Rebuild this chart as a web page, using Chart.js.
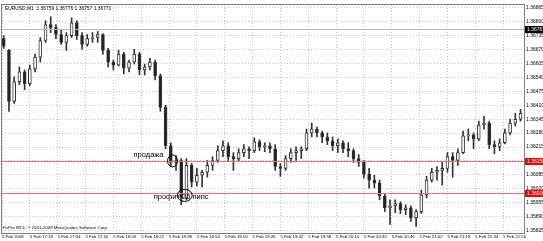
<!DOCTYPE html>
<html>
<head>
<meta charset="utf-8">
<script src="https://cdn.jsdelivr.net/npm/chart.js@4.4.1/dist/chart.umd.min.js"></script>
<style>
    html, body { margin: 0; padding: 0; background: #fff; overflow: hidden; }
    #wrap { position: relative; width: 543px; height: 241px; }
</style>
</head>
<body>
<div id="wrap"><canvas id="grafico"></canvas></div>
<script>
// EURUSD M1, 5 Feb 2008 - candles grouped by 3 minutes
const tituloSimbolo = 'EURUSD,M1  1.36759 1.36776 1.36757 1.36771';
const copyright = 'FxPro MT4, © 2001-2009 MetaQuotes Software Corp.';

const inicioMin = 3;   // first bar: 17:03 (minutes after 17:00)
const passoMin = 3;

const abertura = [1.36722,1.36667,1.36428,1.36520,1.36566,1.36511,1.36580,1.36635,1.36713,1.36787,
    1.36773,1.36741,1.36704,1.36736,1.36796,1.36736,1.36695,1.36722,1.36727,1.36741,
    1.36667,1.36612,1.36598,1.36649,1.36584,1.36612,1.36649,1.36575,1.36589,1.36612,
    1.36548,1.36400,1.36221,1.36143,1.36152,1.35977,1.36129,1.36051,1.36083,1.36097,
    1.36129,1.36152,1.36198,1.36221,1.36170,1.36161,1.36189,1.36207,1.36198,1.36239,
    1.36216,1.36221,1.36207,1.36124,1.36115,1.36161,1.36189,1.36198,1.36207,1.36281,
    1.36299,1.36281,1.36262,1.36244,1.36221,1.36235,1.36207,1.36198,1.36161,1.36143,
    1.36088,1.36060,1.36046,1.35986,1.35931,1.35940,1.35950,1.35922,1.35931,1.35885,
    1.35913,1.35991,1.36060,1.36097,1.36106,1.36115,1.36170,1.36152,1.36189,1.36267,
    1.36272,1.36253,1.36318,1.36327,1.36226,1.36216,1.36235,1.36281,1.36327,1.36345];
const maxima = [1.36736,1.36672,1.36543,1.36589,1.36575,1.36598,1.36649,1.36727,1.36805,1.36824,
    1.36787,1.36764,1.36750,1.36819,1.36805,1.36750,1.36741,1.36750,1.36755,1.36745,
    1.36676,1.36621,1.36667,1.36658,1.36621,1.36672,1.36658,1.36603,1.36630,1.36621,
    1.36557,1.36410,1.36235,1.36175,1.36161,1.36161,1.36138,1.36115,1.36106,1.36152,
    1.36170,1.36221,1.36244,1.36235,1.36189,1.36207,1.36226,1.36216,1.36258,1.36249,
    1.36235,1.36235,1.36226,1.36138,1.36175,1.36207,1.36216,1.36216,1.36299,1.36327,
    1.36308,1.36290,1.36281,1.36262,1.36253,1.36244,1.36235,1.36207,1.36180,1.36152,
    1.36115,1.36083,1.36060,1.35996,1.35968,1.35968,1.35959,1.35945,1.35940,1.35922,
    1.36014,1.36078,1.36115,1.36124,1.36143,1.36189,1.36189,1.36207,1.36290,1.36299,
    1.36281,1.36336,1.36359,1.36336,1.36244,1.36253,1.36299,1.36345,1.36373,1.36391];
const minimas = [1.36676,1.36382,1.36419,1.36506,1.36483,1.36502,1.36566,1.36612,1.36704,1.36750,
    1.36722,1.36695,1.36667,1.36727,1.36718,1.36672,1.36686,1.36704,1.36704,1.36649,
    1.36589,1.36575,1.36594,1.36557,1.36566,1.36603,1.36552,1.36552,1.36575,1.36529,
    1.36382,1.36207,1.36124,1.36106,1.35945,1.35968,1.36028,1.36032,1.36028,1.36074,
    1.36106,1.36143,1.36170,1.36152,1.36106,1.36152,1.36170,1.36161,1.36189,1.36198,
    1.36193,1.36189,1.36106,1.36078,1.36106,1.36143,1.36152,1.36161,1.36198,1.36262,
    1.36262,1.36235,1.36226,1.36198,1.36189,1.36189,1.36170,1.36143,1.36124,1.36069,
    1.36023,1.36023,1.35968,1.35913,1.35853,1.35908,1.35904,1.35899,1.35867,1.35844,
    1.35904,1.35977,1.36051,1.36060,1.36037,1.36097,1.36074,1.36129,1.36184,1.36244,
    1.36207,1.36244,1.36299,1.36207,1.36184,1.36198,1.36230,1.36272,1.36313,1.36336];
const fechamento = [1.36686,1.36428,1.36520,1.36566,1.36511,1.36580,1.36635,1.36713,1.36787,1.36773,
    1.36741,1.36704,1.36736,1.36796,1.36736,1.36695,1.36722,1.36727,1.36741,1.36667,
    1.36612,1.36598,1.36649,1.36584,1.36612,1.36649,1.36575,1.36589,1.36612,1.36548,
    1.36400,1.36221,1.36143,1.36152,1.35977,1.36129,1.36051,1.36083,1.36097,1.36129,
    1.36152,1.36198,1.36221,1.36170,1.36161,1.36189,1.36207,1.36198,1.36239,1.36216,
    1.36221,1.36207,1.36124,1.36115,1.36161,1.36189,1.36198,1.36207,1.36281,1.36299,
    1.36281,1.36262,1.36244,1.36221,1.36235,1.36207,1.36198,1.36161,1.36143,1.36088,
    1.36060,1.36046,1.35986,1.35931,1.35940,1.35950,1.35922,1.35931,1.35885,1.35913,
    1.35991,1.36060,1.36097,1.36106,1.36115,1.36170,1.36152,1.36189,1.36267,1.36272,
    1.36253,1.36318,1.36327,1.36226,1.36216,1.36235,1.36281,1.36327,1.36345,1.36373];

const precosEixo = [1.36865,1.36800,1.36735,1.36670,1.36605,1.36540,1.36475,1.36410,1.36345,
    1.36280,1.36215,1.36150,1.36085,1.36020,1.35955,1.35890,1.35825];
const minutosEixoX = [2,18,34,50,66,82,98,114,130,146,162,178,194,210,226,242,258,274,290];
const rotulosEixoX = ['5 Feb 2008','5 Feb 17:18','5 Feb 17:34','5 Feb 17:50','5 Feb 18:06','5 Feb 18:22',
    '5 Feb 18:38','5 Feb 18:54','5 Feb 19:10','5 Feb 19:26','5 Feb 19:42','5 Feb 19:58','5 Feb 20:14',
    '5 Feb 20:30','5 Feb 20:46','5 Feb 21:02','5 Feb 21:18','5 Feb 21:34','5 Feb 21:50'];

const precoBid = 1.36767;
const linhaVenda = 1.36150;
const linhaProfit = 1.36000;
const marcaVenda = { minuto: 100, preco: 1.36150, texto: 'продажа' };
const marcaProfit = { minuto: 107, preco: 1.35989, texto: 'профит 25 пипс' };

const fonte = '"Liberation Sans", Arial, sans-serif';

const minutos = abertura.map((_, i) => inicioMin + i * passoMin);
const corpos = abertura.map((o, i) => ({ x: minutos[i], y: [o, fechamento[i]] }));
const pavios = maxima.map((h, i) => ({ x: minutos[i], y: [minimas[i], h] }));
const altas = abertura.map((o, i) => fechamento[i] >= o);

function rotuloPreco(ctx, chart, preco, fundo, texto) {
    const y = chart.scales.y.getPixelForValue(preco);
    const x0 = chart.chartArea.right + 1;
    ctx.fillStyle = fundo;
    ctx.fillRect(x0, Math.round(y) - 3, 543 - x0, 7);
    ctx.fillStyle = texto;
    ctx.font = '5px ' + fonte;
    ctx.textBaseline = 'middle';
    ctx.textAlign = 'left';
    ctx.fillText(preco.toFixed(5), x0 + 2, y + 0.5);
}

function linhaH(ctx, a, yy, cor) {
    ctx.fillStyle = cor;
    ctx.fillRect(a.left, Math.round(yy), a.right - a.left, 1);
}

const extras = {
    id: 'extras',
    afterDatasetsDraw(chart) {
        const { ctx, chartArea: a, scales: { y } } = chart;
        ctx.save();
        linhaH(ctx, a, y.getPixelForValue(precoBid), '#b8b8b8');
        linhaH(ctx, a, y.getPixelForValue(linhaVenda), '#f07070');
        linhaH(ctx, a, y.getPixelForValue(linhaProfit), '#f07070');
        ctx.restore();
    },
    afterDraw(chart) {
        const { ctx, chartArea: a, scales: { x, y } } = chart;
        ctx.save();
        ctx.setLineDash([]);
        ctx.strokeStyle = '#808080';
        ctx.lineWidth = 1;
        ctx.strokeRect(a.left - 0.5, a.top - 0.5, a.right - a.left + 1, a.bottom - a.top + 1);

        ctx.fillStyle = '#000';
        ctx.textBaseline = 'middle';
        ctx.textAlign = 'left';
        ctx.font = '4.9px ' + fonte;
        ctx.fillText(tituloSimbolo, a.left + 3, a.top + 4);
        ctx.font = '4.4px ' + fonte;
        ctx.fillText(copyright, a.left + 1, a.bottom - 5);

        rotuloPreco(ctx, chart, precoBid, '#000', '#fff');
        rotuloPreco(ctx, chart, linhaVenda, '#f00000', '#fff');
        rotuloPreco(ctx, chart, linhaProfit, '#f00000', '#fff');

        // anotacoes
        ctx.font = '7.5px ' + fonte;
        ctx.fillStyle = '#000';
        ctx.strokeStyle = '#000';
        let cx = x.getPixelForValue(marcaVenda.minuto), cy = y.getPixelForValue(marcaVenda.preco);
        ctx.beginPath(); ctx.ellipse(cx, cy, 5, 6, 0, 0, Math.PI * 2); ctx.stroke();
        ctx.textAlign = 'right';
        ctx.fillText(marcaVenda.texto, cx - 9, cy - 6);

        cx = x.getPixelForValue(marcaProfit.minuto); cy = y.getPixelForValue(marcaProfit.preco);
        ctx.textAlign = 'left';
        ctx.fillText(marcaProfit.texto, cx - 31, cy + 2);
        ctx.beginPath(); ctx.ellipse(cx, cy, 7.5, 6, 0, 0, Math.PI * 2); ctx.stroke();
        ctx.restore();
    }
};

new Chart(document.getElementById('grafico'), {
    type: 'bar',
    data: {
        datasets: [{
            label: 'corpo',
            data: corpos,
            backgroundColor: altas.map(u => u ? '#ffffff' : '#222222'),
            borderColor: '#333333',
            borderWidth: 1,
            borderSkipped: false,
            barThickness: 3,
            grouped: false,
        }, {
            label: 'pavio',
            data: pavios,
            backgroundColor: '#333333',
            borderWidth: 0,
            barThickness: 1,
            grouped: false,
        }]
    },
    options: {
        responsive: true,
        maintainAspectRatio: false,
        animation: false,
        layout: { padding: { left: 2, top: 2, right: 0, bottom: 0 } },
        plugins: { legend: { display: false }, tooltip: { enabled: false } },
        scales: {
            x: {
                type: 'linear',
                offset: false,
                min: 2,
                max: 302,
                afterBuildTicks: ax => { ax.ticks = minutosEixoX.map(v => ({ value: v })); },
                afterFit: ax => { ax.height = 8; },
                ticks: {
                    autoSkip: false,
                    maxRotation: 0,
                    align: 'start',
                    padding: 1,
                    color: '#000',
                    font: { family: fonte, size: 4.3 },
                    callback: (v, i) => rotulosEixoX[i],
                },
                grid: { color: '#c4c4c4', drawTicks: false, offset: false },
                border: { display: false, dash: [1, 2] },
            },
            y: {
                position: 'right',
                min: 1.35813,
                max: 1.36879,
                afterBuildTicks: ax => { ax.ticks = precosEixo.map(v => ({ value: v })); },
                afterFit: ax => { ax.width = 19; },
                ticks: {
                    padding: 2,
                    color: '#000',
                    font: { family: fonte, size: 5 },
                    callback: v => v.toFixed(5),
                },
                grid: { color: '#c4c4c4', drawTicks: false },
                border: { display: false, dash: [1, 2] },
            }
        }
    },
    plugins: [extras]
});
</script>
</body>
</html>
